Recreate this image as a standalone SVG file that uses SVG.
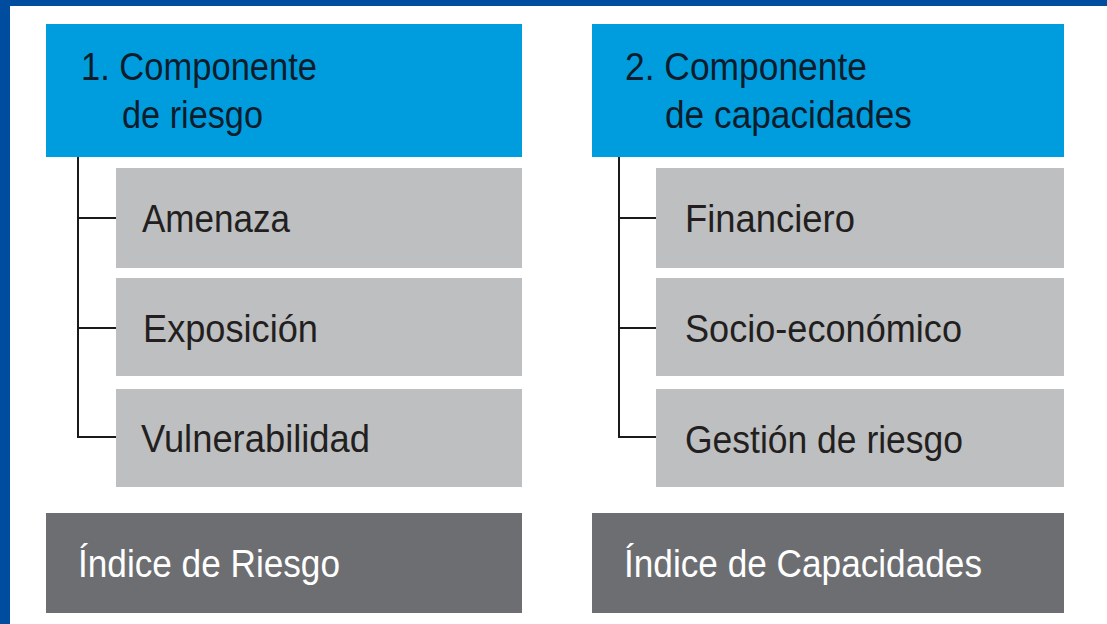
<svg xmlns="http://www.w3.org/2000/svg" width="1107" height="624" viewBox="0 0 1107 624">
  <style>
    .hdr { fill: #009DDE; }
    .sub { fill: #BEBFC1; }
    .idx { fill: #6D6E71; }
    text { font-family: "Liberation Sans", Arial, sans-serif; font-size: 38px; }
    .th { fill: #0F1C2B; }
    .ts { fill: #231F20; }
    .ti { fill: #FFFFFF; }
    .conn { fill: none; stroke: #1A1A1A; stroke-width: 2; }
  </style>
  <rect x="0" y="0" width="1107" height="624" fill="#004DA0"/>
  <rect x="10" y="6" width="1097" height="618" fill="#FFFFFF"/>

  <g id="connectors">
    <path class="conn" d="M78 157 V437 H118 M78 218 H118 M78 328 H118"/>
    <path class="conn" d="M619 157 V437 H658 M619 218 H658 M619 328 H658"/>
  </g>

  <g id="comp1">
    <rect class="hdr" x="46" y="24" width="476" height="133"/>
    <text class="th" x="81" y="80" textLength="236" lengthAdjust="spacingAndGlyphs">1. Componente</text>
    <text class="th" x="122" y="128" textLength="141" lengthAdjust="spacingAndGlyphs">de riesgo</text>
  </g>
  <g id="amenaza">
    <rect class="sub" x="116" y="168" width="406" height="100"/>
    <text class="ts" x="142" y="232" textLength="148" lengthAdjust="spacingAndGlyphs">Amenaza</text>
  </g>
  <g id="exposicion">
    <rect class="sub" x="116" y="278" width="406" height="98"/>
    <text class="ts" x="143" y="342" textLength="175" lengthAdjust="spacingAndGlyphs">Exposición</text>
  </g>
  <g id="vulnerabilidad">
    <rect class="sub" x="116" y="389" width="406" height="98"/>
    <text class="ts" x="141" y="452" textLength="229" lengthAdjust="spacingAndGlyphs">Vulnerabilidad</text>
  </g>
  <g id="indice-riesgo">
    <rect class="idx" x="46" y="513" width="476" height="100"/>
    <text class="ti" x="78" y="577" textLength="262" lengthAdjust="spacingAndGlyphs">Índice de Riesgo</text>
  </g>

  <g id="comp2">
    <rect class="hdr" x="592" y="24" width="472" height="133"/>
    <text class="th" x="625" y="80" textLength="242" lengthAdjust="spacingAndGlyphs">2. Componente</text>
    <text class="th" x="665" y="128" textLength="247" lengthAdjust="spacingAndGlyphs">de capacidades</text>
  </g>
  <g id="financiero">
    <rect class="sub" x="656" y="168" width="408" height="100"/>
    <text class="ts" x="685" y="232" textLength="170" lengthAdjust="spacingAndGlyphs">Financiero</text>
  </g>
  <g id="socioeconomico">
    <rect class="sub" x="656" y="278" width="408" height="98"/>
    <text class="ts" x="685" y="342" textLength="277" lengthAdjust="spacingAndGlyphs">Socio-económico</text>
  </g>
  <g id="gestion">
    <rect class="sub" x="656" y="389" width="408" height="98"/>
    <text class="ts" x="685" y="453" textLength="278" lengthAdjust="spacingAndGlyphs">Gestión de riesgo</text>
  </g>
  <g id="indice-capacidades">
    <rect class="idx" x="592" y="513" width="472" height="100"/>
    <text class="ti" x="624" y="577" textLength="358" lengthAdjust="spacingAndGlyphs">Índice de Capacidades</text>
  </g>
</svg>
